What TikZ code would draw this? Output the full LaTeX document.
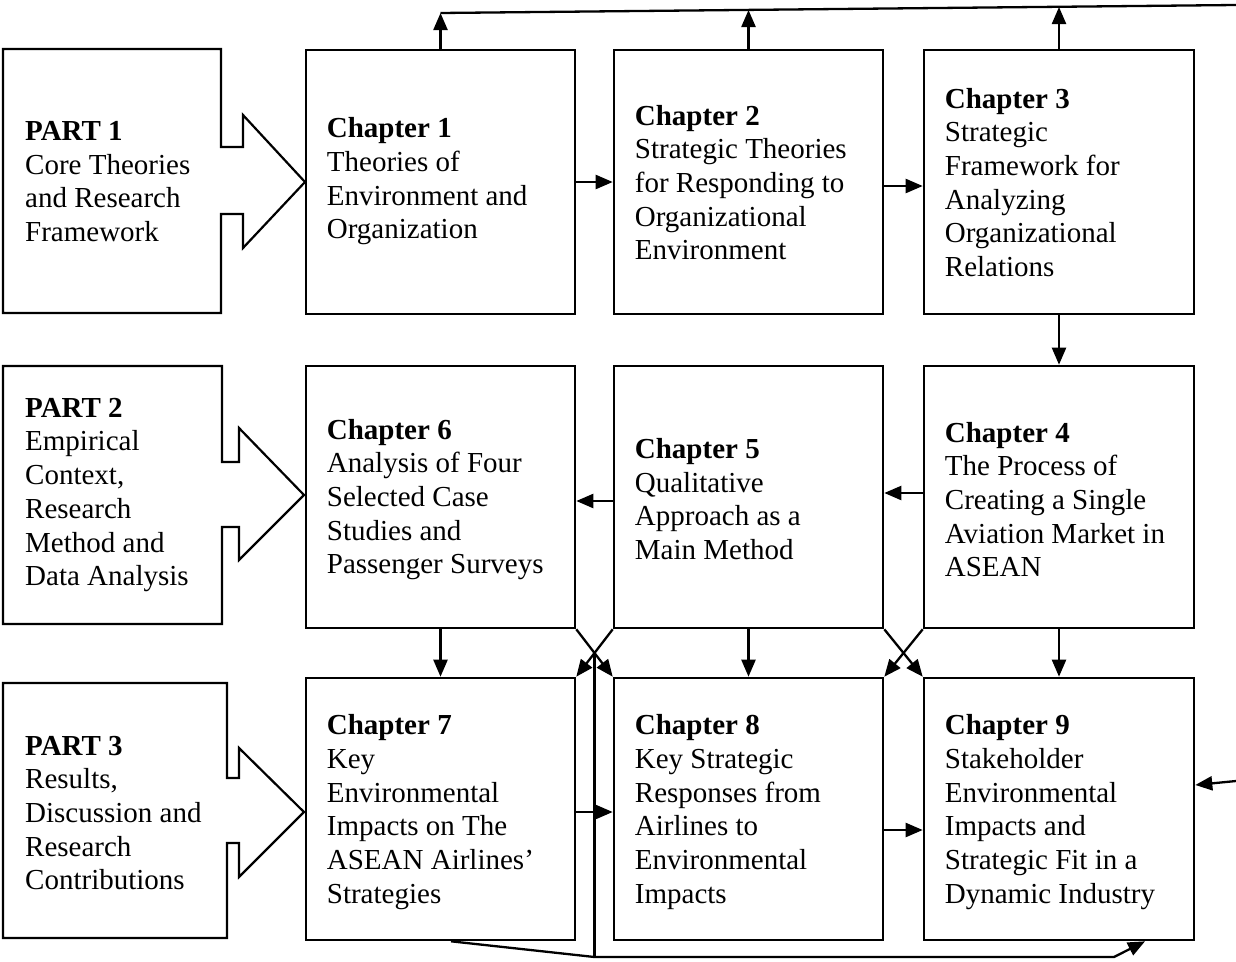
\documentclass[tikz,border=0pt]{standalone}
\usepackage{fontspec}
\setmainfont{Liberation Serif}
\usetikzlibrary{arrows.meta,calc}
\begin{document}
\begin{tikzpicture}[x=1pt,y=-1pt,
  box/.style={draw, line width=2.6pt, inner sep=0pt, minimum width=269pt, minimum height=264pt},
  partline/.style={draw, line width=2.2pt},
  txt/.style={anchor=west, inner sep=0pt, align=left, font=\fontsize{29}{33.7}\selectfont},
  arr/.style={line width=2.3pt, -{Triangle[length=17pt,width=14pt]}},
  ln/.style={line width=2.3pt}]
\useasboundingbox (0,0) rectangle (1236,961);

% chapter boxes
\node[box] (c1) at (440.5,182) {};
\node[box] (c2) at (748.5,182) {};
\node[box, minimum width=270pt] (c3) at (1059,182) {};
\node[box, minimum height=262pt] (c6) at (440.5,497) {};
\node[box, minimum height=262pt] (c5) at (748.5,497) {};
\node[box, minimum height=262pt, minimum width=270pt] (c4) at (1059,497) {};
\node[box, minimum height=262pt] (c7) at (440.5,809) {};
\node[box, minimum height=262pt] (c8) at (748.5,809) {};
\node[box, minimum height=262pt, minimum width=270pt] (c9) at (1059,809) {};

% part outlines (box with arrow)
\draw[partline] (3,49) -- (221,49) -- (221,147) -- (243,147) -- (243,115) -- (305,182)
  -- (243,248) -- (243,214) -- (221,214) -- (221,313) -- (3,313) -- cycle;
\draw[partline] (3,366) -- (222,366) -- (222,462) -- (239,462) -- (239,428) -- (304,495)
  -- (239,560) -- (239,527) -- (222,527) -- (222,624) -- (3,624) -- cycle;
\draw[partline] (3,683) -- (227,683) -- (227,778) -- (239,778) -- (239,748) -- (304,812)
  -- (239,877) -- (239,843) -- (227,843) -- (227,938) -- (3,938) -- cycle;

% part texts
\node[txt] (tp1) at (25,181.5) {\textbf{PART 1}\\Core Theories\\and Research\\Framework};
\node[txt] (tp2) at (25,495) {\textbf{PART 2}\\Empirical\\Context,\\Research\\Method and\\Data Analysis};
\node[txt] (tp3) at (25,813) {\textbf{PART 3}\\Results,\\Discussion and\\Research\\Contributions};

% chapter texts
\node[txt] (t1) at ($(c1.west)+(22,-0.5)$) {\textbf{Chapter 1}\\Theories of\\Environment and\\Organization};
\node[txt] (t2) at ($(c2.west)+(22,0.5)$) {\textbf{Chapter 2}\\Strategic Theories\\for Responding to\\Organizational\\Environment};
\node[txt] (t3) at ($(c3.west)+(22,0.5)$) {\textbf{Chapter 3}\\Strategic\\Framework for\\Analyzing\\Organizational\\Relations};
\node[txt] (t6) at ($(c6.west)+(22,2.5)$) {\textbf{Chapter 6}\\Analysis of Four\\Selected Case\\Studies and\\Passenger Surveys};
\node[txt] (t5) at ($(c5.west)+(22,2)$) {\textbf{Chapter 5}\\Qualitative\\Approach as a\\Main Method};
\node[txt] (t4) at ($(c4.west)+(22,2.5)$) {\textbf{Chapter 4}\\The Process of\\Creating a Single\\Aviation Market in\\ASEAN};
\node[txt] (t7) at ($(c7.west)+(22,3)$) {\textbf{Chapter 7}\\Key\\Environmental\\Impacts on The\\ASEAN Airlines'\\Strategies};
\node[txt] (t8) at ($(c8.west)+(22,3)$) {\textbf{Chapter 8}\\Key Strategic\\Responses from\\Airlines to\\Environmental\\Impacts};
\node[txt] (t9) at ($(c9.west)+(22,3)$) {\textbf{Chapter 9}\\Stakeholder\\Environmental\\Impacts and\\Strategic Fit in a\\Dynamic Industry};

% horizontal / vertical flow
\draw[arr] (c1.east) -- (c2.west);
\draw[arr] ([yshift=-4pt]c2.east) -- ([yshift=-4pt]c3.west);
\draw[arr] (c3.south) -- (c4.north);
\draw[arr] ([yshift=4pt]c4.west) -- ([yshift=4pt]c5.east);
\draw[arr] ([yshift=-4pt]c5.west) -- ([yshift=-4pt]c6.east);
\draw[arr] (c6.south) -- (c7.north);
\draw[arr] (c5.south) -- (c8.north);
\draw[arr] (c4.south) -- (c9.north);
\draw[arr] ([yshift=-3pt]c7.east) -- ([yshift=-3pt]c8.east -| c8.west);
\draw[arr] ([yshift=-21pt]c8.east) -- ([yshift=-21pt]c9.west);

% crossing connectors
\draw[arr] (c6.south east) -- (c8.north west);
\draw[arr] (c5.south west) -- (c7.north east);
\draw[arr] (c5.south east) -- (c9.north west);
\draw[arr] (c4.south west) -- (c8.north east);

% bottom route
\coordinate (x1) at ($(c6.south east)!0.5!(c8.north west)$);
\coordinate (bl) at (0,957);
\coordinate (b1) at (x1 |- bl);
\coordinate (b2) at (1114,957);
\draw[ln] (x1) -- (b1);
\draw[arr] ([xshift=10.5pt]c7.south) -- (b1) -- (b2) -- ([xshift=86pt]c9.south);

% top feedback route
\coordinate (f1) at (440.5,13);
\coordinate (f2) at (748.5,10);
\coordinate (f3) at (1059,7);
\coordinate (fr) at (1236,5);
\draw[ln] (f1) -- (fr);
\draw[arr] (c1.north) -- (f1);
\draw[arr] (c2.north) -- (f2);
\draw[arr] (c3.north) -- (f3);
\coordinate (rin) at (1236,781);
\draw[arr] (rin) -- ([yshift=24pt]c9.east);
\end{tikzpicture}
\end{document}
